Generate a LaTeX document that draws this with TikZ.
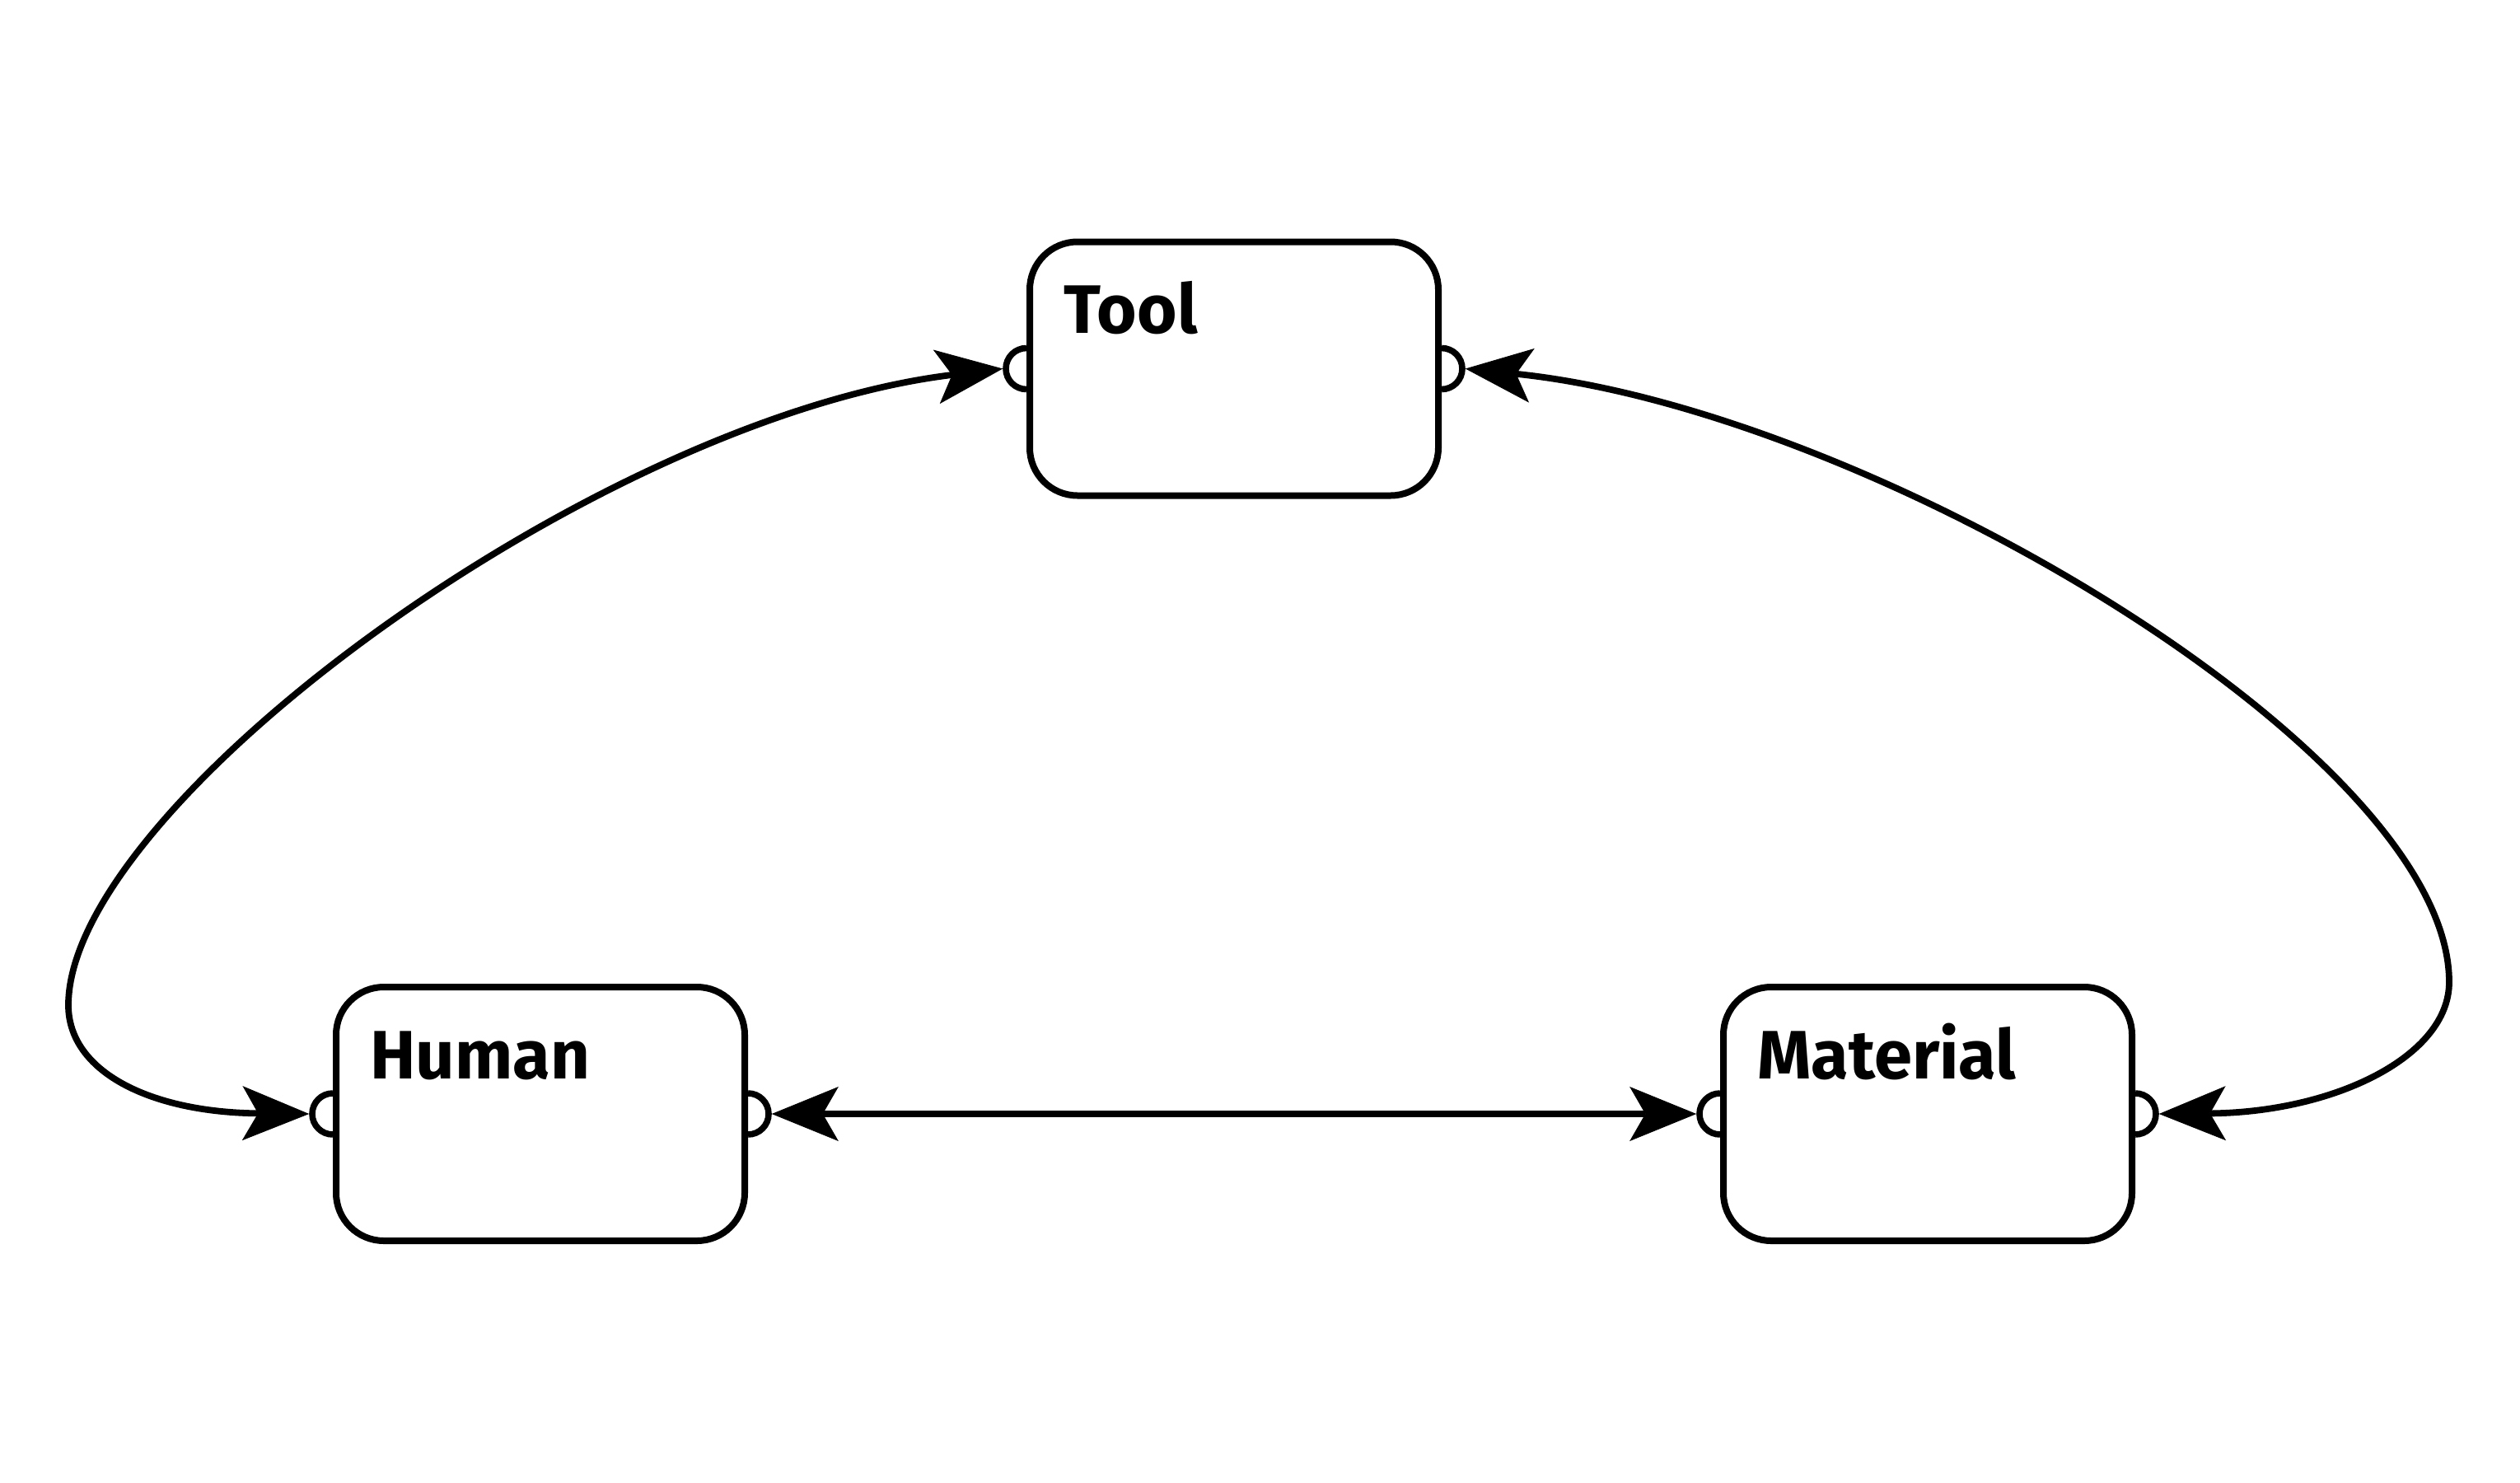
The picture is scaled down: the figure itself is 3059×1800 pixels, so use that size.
\documentclass[tikz,border=0pt]{standalone}
\usepackage{fontspec}
\newfontfamily\labfont{Fira Sans}
\usetikzlibrary{arrows.meta}
\begin{document}
\begin{tikzpicture}[x=0.5pt,y=-0.5pt,
  mytip/.tip={Stealth[length=40.5pt,width=33pt,inset=9.5pt,line width=0.4pt]},
  box/.style={draw, fill=white, rounded corners=29pt, minimum width=248pt,
    minimum height=154pt, inner sep=0pt, line width=4pt},
  portarc/.style={line width=3.8pt},
  lab/.style={anchor=base west, inner sep=0pt,
    font=\labfont\bfseries\fontsize{41.6}{50}\selectfont},
  conn/.style={line width=3.9pt, mytip-mytip}]
\useasboundingbox (0,0) rectangle (3059,1800);
% boxes
\node[box] (tool) at (1498,447.5) {};
\node[box] (human) at (656,1352) {};
\node[box] (material) at (2340,1352) {};
% labels
\node[lab] (toolL) at ([xshift=22.5pt,yshift=-57.5pt]tool.north west) {Tool};
\node[lab] (humanL) at ([xshift=22.5pt,yshift=-57.5pt]human.north west) {Human};
\node[lab] (materialL) at ([xshift=22.5pt,yshift=-57.5pt]material.north west) {Material};
% ports
\foreach \b in {tool,human,material}{
  \draw[portarc] ([yshift=12.5pt]\b.west) arc[start angle=90,end angle=270,radius=12.5pt];
  \draw[portarc] ([yshift=12.5pt]\b.east) arc[start angle=90,end angle=-90,radius=12.5pt];
}
% port tips
\coordinate (tW) at ([xshift=-14.4pt]tool.west);
\coordinate (tE) at ([xshift=14.4pt]tool.east);
\coordinate (hW) at ([xshift=-14.4pt]human.west);
\coordinate (hE) at ([xshift=14.4pt]human.east);
\coordinate (mW) at ([xshift=-14.4pt]material.west);
\coordinate (mE) at ([xshift=14.4pt]material.east);
\coordinate (cL) at (83,1220);
\coordinate (cR) at (2973,1192);
% connectors
\draw[conn] (hE) -- (mW);
\draw[conn] (tW) .. controls (721,508) and (83,979) .. (cL)
  .. controls (83,1300) and (181,1350) .. (hW);
\draw[conn] (tE) .. controls (2271,498) and (2973,915) .. (cR)
  .. controls (2973,1282) and (2834,1350) .. (mE);
\end{tikzpicture}
\end{document}
